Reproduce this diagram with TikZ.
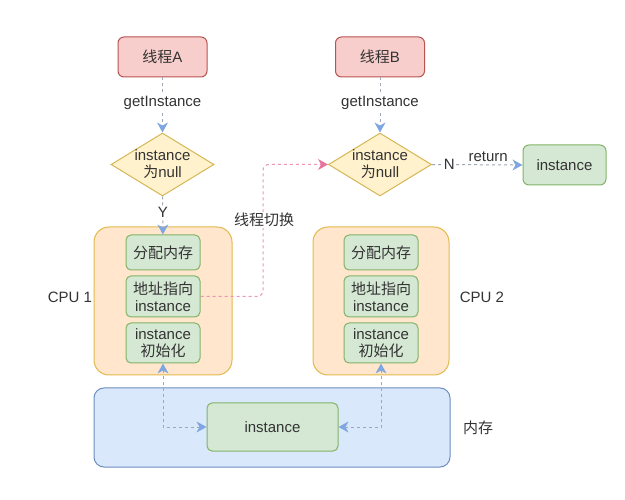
\documentclass[tikz,border=0pt]{standalone}
\usepackage{fontspec}
\setmainfont{Liberation Sans}
\newfontfamily\cjk{Noto Sans CJK SC}
\usetikzlibrary{shapes.geometric,arrows.meta}
\definecolor{redF}{HTML}{F8CECC}\definecolor{redS}{HTML}{B85450}
\definecolor{yelF}{HTML}{FFF2CC}\definecolor{yelS}{HTML}{D6B656}
\definecolor{orF}{HTML}{FFE6CC}\definecolor{orS}{HTML}{D79B00}
\definecolor{grF}{HTML}{D5E8D4}\definecolor{grS}{HTML}{82B366}
\definecolor{blF}{HTML}{DAE8FC}\definecolor{blS}{HTML}{6C8EBF}
\definecolor{txt}{HTML}{333333}
\definecolor{lineG}{HTML}{A0A8B4}
\definecolor{tipB}{HTML}{7EA6E0}
\definecolor{pinkL}{HTML}{EE93B4}
\definecolor{pinkT}{HTML}{E8739E}
\begin{document}
\begin{tikzpicture}[x=1pt,y=-1pt,
  base/.style={font=\fontsize{15}{17}\selectfont, text=txt, align=center},
  thread/.style={base, draw=redS, fill=redF, line width=1pt, rounded corners=6pt, minimum width=89pt, minimum height=40pt},
  dec/.style={base, diamond, draw=yelS, fill=yelF, line width=1pt, minimum width=103pt, minimum height=63pt, inner sep=-3pt, aspect=1.6},
  cpu/.style={draw=orS!70, fill=orF, line width=1pt, rounded corners=15pt},
  mem/.style={draw=blS, fill=blF, line width=1pt, rounded corners=10pt},
  step box/.style={base, draw=grS, fill=grF, line width=1pt, rounded corners=5pt, minimum width=74pt, inner sep=1pt},
  lbl/.style={base, fill=white, inner sep=1.5pt},
  plain/.style={base},
  tipb/.style={},
  arr/.style={draw=lineG, line width=1pt, dash pattern=on 3pt off 3pt, -{Stealth[length=10pt,width=11pt,inset=3pt,color=tipB,line width=0pt]}},
  arr2/.style={draw=lineG, line width=1pt, dash pattern=on 3pt off 3pt, {Stealth[length=10pt,width=11pt,inset=3pt,color=tipB,line width=0pt]}-{Stealth[length=10pt,width=11pt,inset=3pt,color=tipB,line width=0pt]}},
  parr/.style={draw=pinkL, line width=1pt, dash pattern=on 3pt off 3pt, rounded corners=6pt, -{Stealth[length=10pt,width=11pt,inset=3pt,color=pinkT,line width=0pt]}}
]
\useasboundingbox (0,0) rectangle (625,500);
% containers
\node[cpu, minimum width=138pt, minimum height=148pt] (cpu1) at (163,301) {};
\node[cpu, minimum width=136pt, minimum height=148pt] (cpu2) at (381,301) {};
\node[mem, minimum width=356pt, minimum height=79pt] (memb) at (272,427.5) {};
% threads
\node[thread] (tA) at (162.5,57) {{\cjk 线程}A};
\node[thread] (tB) at (380,57) {{\cjk 线程}B};
% decisions
\node[dec] (dA) at (162.5,164.5) {instance\\{\cjk 为}null};
\node[dec] (dB) at (380,164.5) {instance\\{\cjk 为}null};
% CPU steps
\node[step box, minimum height=35pt] (c1a) at (163,252.5) {{\cjk 分配内存}};
\node[step box, minimum height=41pt] (c1b) at (163,296.5) {{\cjk 地址指向}\\instance};
\node[step box, minimum height=40pt] (c1c) at (163,343) {instance\\{\cjk 初始化}};
\node[step box, minimum height=35pt] (c2a) at (381,252.5) {{\cjk 分配内存}};
\node[step box, minimum height=41pt] (c2b) at (381,296.5) {{\cjk 地址指向}\\instance};
\node[step box, minimum height=40pt] (c2c) at (381,343) {instance\\{\cjk 初始化}};
% memory instance
\node[step box, minimum width=131pt, minimum height=48pt] (mi) at (272.5,427) {instance};
\node[step box, minimum width=83pt, minimum height=40pt, rounded corners=6pt] (ret) at (564.5,165) {instance};
% outside labels
\node[plain] (l1) at (70,297) {CPU 1};
\node[plain] (l2) at (482,297) {CPU 2};
\node[plain] (l3) at (478,428) {{\cjk 内存}};
% connectors
\draw[arr] (tA) -- node[lbl, pos=0.47] {getInstance} (dA);
\draw[arr] (tB) -- node[lbl, pos=0.47] {getInstance} (dB);
\draw[arr] (dA) -- node[lbl, pos=0.42] {Y} (c1a);
\draw[arr] (dB.east) -- node[lbl, pos=0.19] {N} node[plain, pos=0.62, above=-1pt] {return} (ret.west);
\coordinate (sw) at (263,230);
\draw[parr] (c1b.east) -| (sw) |- (dB.west);
\node[lbl] (sl) at (264,220) {{\cjk 线程切换}};
\draw[arr2] (c1c.south) |- (mi.west);
\draw[arr2] (c2c.south) |- (mi.east);
\end{tikzpicture}
\end{document}
